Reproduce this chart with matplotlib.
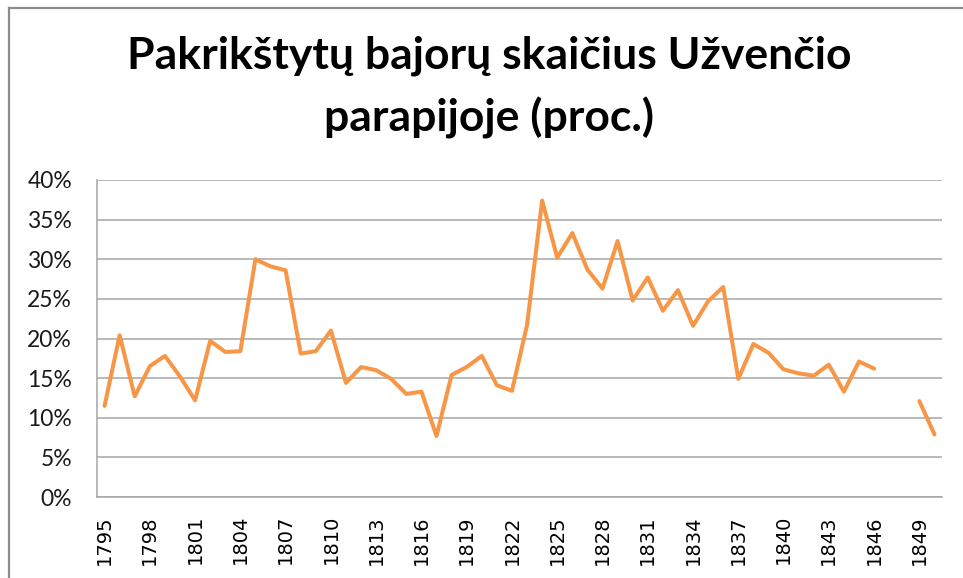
import numpy as np
import matplotlib
matplotlib.use("Agg")
import matplotlib.pyplot as plt
from matplotlib.lines import Line2D
from matplotlib.ticker import FuncFormatter, MultipleLocator

years = list(range(1795, 1851))
values = [11.5, 20.4, 12.7, 16.5, 17.8, 15.2, 12.2, 19.7, 18.3, 18.4,
          30.0, 29.1, 28.6, 18.1, 18.4, 21.0, 14.4, 16.4, 16.0, 14.9,
          13.0, 13.3, 7.7, 15.4, 16.4, 17.8, 14.1, 13.4, 21.7, 37.4,
          30.2, 33.3, 28.7, 26.3, 32.3, 24.8, 27.7, 23.5, 26.1, 21.6,
          24.7, 26.5, 14.9, 19.3, 18.2, 16.1, 15.6, 15.3, 16.7, 13.3,
          17.1, 16.2, np.nan, np.nan, 12.1, 7.9]
title_lines = ["Pakrikštytų bajorų skaičius Užvenčio", "parapijoje (proc.)"]

W, H = 963, 578
fig = plt.figure(figsize=(W / 100, H / 100), dpi=100)
fig.patch.set_facecolor("white")

left, right, top, bottom = 97, 942, 180, 497
ax = fig.add_axes([left / W, 1 - bottom / H, (right - left) / W, (bottom - top) / H])

x = np.arange(len(years))
ax.plot(x, values, color="#F79646", lw=2.9, solid_joinstyle="round", solid_capstyle="round")

ax.set_xlim(-0.5, len(years) - 0.5)
ax.set_ylim(0, 40)
ax.yaxis.set_major_locator(MultipleLocator(5))
ax.yaxis.set_major_formatter(FuncFormatter(lambda v, p: f"{int(round(v))}%"))
ax.grid(axis="y", color="#a6a6a6", lw=1.1)
ax.set_axisbelow(True)

tick_idx = x[::3]
ax.set_xticks(tick_idx)
ax.set_xticklabels([str(years[i]) for i in tick_idx], rotation=90,
                   fontfamily="DejaVu Sans", fontsize=14, color="black")
ax.tick_params(axis="x", length=0, pad=13)
ax.tick_params(axis="y", length=0, pad=18, labelsize=16.5, labelcolor="#1a1a1a")
for lbl in ax.get_yticklabels():
    lbl.set_fontfamily("Lato")

for s in ["top", "right"]:
    ax.spines[s].set_visible(False)
ax.spines["left"].set_color("#a6a6a6")
ax.spines["bottom"].set_color("#a6a6a6")
ax.spines["left"].set_linewidth(1.1)
ax.spines["bottom"].set_linewidth(1.1)

for line, base in zip(title_lines, [68, 132]):
    fig.text(489 / W, 1 - base / H, line, ha="center", va="baseline",
             fontsize=32, fontweight="bold", fontfamily="Lato")

# chart-area border (top and left edges visible)
fig.add_artist(Line2D([9 / W, 1.0], [1 - 8 / H, 1 - 8 / H], color="#8c8c8c", lw=1.6,
                      transform=fig.transFigure))
fig.add_artist(Line2D([9 / W, 9 / W], [0, 1 - 8 / H], color="#8c8c8c", lw=1.6,
                      transform=fig.transFigure))

fig.savefig("out.png", dpi=100)
